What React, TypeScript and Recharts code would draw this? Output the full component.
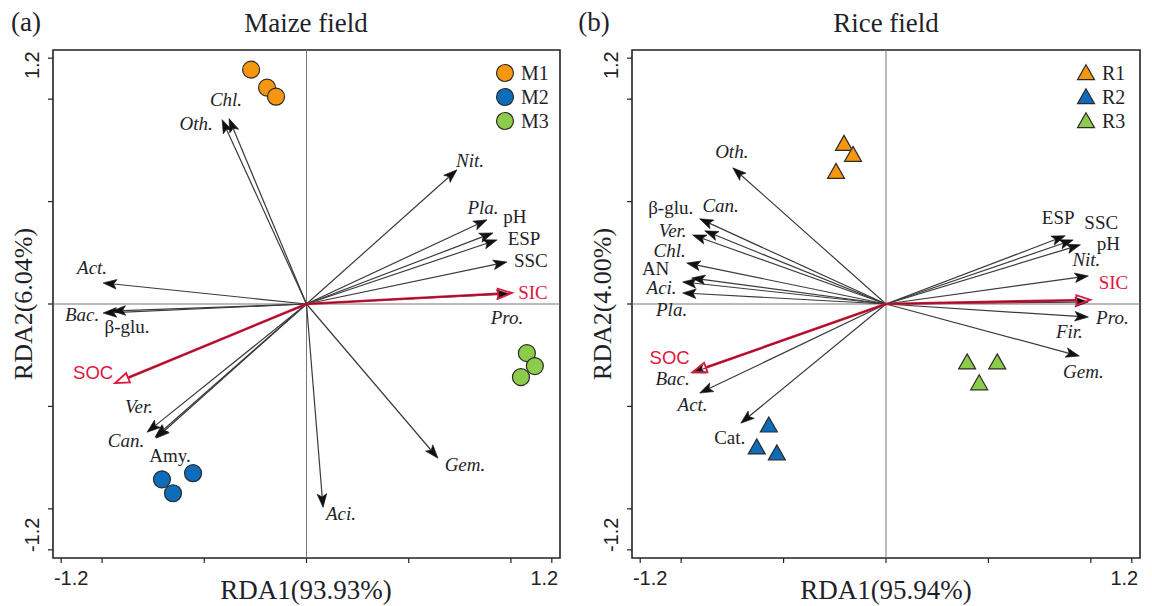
import React from 'react';
import { ScatterChart, Scatter, XAxis, YAxis, ReferenceLine, ReferenceArea, Legend } from 'recharts';

const SERIF = "'Liberation Serif', 'Times New Roman', Times, serif";
const SANS = "'Liberation Sans', Arial, Helvetica, sans-serif";

const AXIS_TICKS = [-1.2, -1, -0.5, 0, 0.5, 1, 1.2];
const AXIS_DOMAIN: [number, number] = [-1.24, 1.24];
const LABELLED_TICKS = [-1.2, 1.2];

// ---------- Maize field (a) ----------
const maizeM1 = [{ x: -0.271, y: 1.144 }, { x: -0.193, y: 1.056 }, { x: -0.149, y: 1.012 }];
const maizeM2 = [{ x: -0.707, y: -0.856 }, { x: -0.555, y: -0.826 }, { x: -0.653, y: -0.924 }];
const maizeM3 = [{ x: 1.078, y: -0.240 }, { x: 1.117, y: -0.303 }, { x: 1.049, y: -0.357 }];

const maizeSpecies = [
  { name: 'Chl.', x: -0.379, y: 0.905 },
  { name: 'Oth.', x: -0.413, y: 0.900 },
  { name: 'Act.', x: -0.995, y: 0.103 },
  { name: 'Bac.', x: -0.995, y: -0.044 },
  { name: 'β-glu.', x: -0.951, y: -0.034 },
  { name: 'Ver.', x: -0.741, y: -0.650 },
  { name: 'Can.', x: -0.780, y: -0.626 },
  { name: 'Amy.', x: -0.736, y: -0.655 },
  { name: 'Aci.', x: 0.081, y: -0.993 },
  { name: 'Gem.', x: 0.643, y: -0.753 },
  { name: 'Nit.', x: 0.736, y: 0.655 },
  { name: 'Pla.', x: 0.883, y: 0.411 },
  { name: 'pH', x: 0.912, y: 0.347 },
  { name: 'ESP', x: 0.932, y: 0.313 },
  { name: 'SSC', x: 0.980, y: 0.205 },
  { name: 'Pro.', x: 0.995, y: 0.049 },
];
const maizeEnv = [
  { name: 'SOC', x: -0.936, y: -0.386 },
  { name: 'SIC', x: 1.005, y: 0.054 },
];

// ---------- Rice field (b) ----------
const riceR1 = [{ x: -0.205, y: 0.778 }, { x: -0.161, y: 0.724 }, { x: -0.244, y: 0.641 }];
const riceR2 = [{ x: -0.572, y: -0.597 }, { x: -0.631, y: -0.704 }, { x: -0.533, y: -0.733 }];
const riceR3 = [{ x: 0.396, y: -0.289 }, { x: 0.543, y: -0.289 }, { x: 0.455, y: -0.391 }];

const riceSpecies = [
  { name: 'Oth.', x: -0.748, y: 0.665 },
  { name: 'Can.', x: -0.910, y: 0.416 },
  { name: 'β-glu.', x: -0.885, y: 0.357 },
  { name: 'Ver.', x: -0.944, y: 0.337 },
  { name: 'Chl.', x: -0.973, y: 0.200 },
  { name: 'AN', x: -0.949, y: 0.127 },
  { name: 'Aci.', x: -0.993, y: 0.108 },
  { name: 'Pla.', x: -0.993, y: 0.054 },
  { name: 'Bac.', x: -0.949, y: -0.337 },
  { name: 'Act.', x: -0.910, y: -0.435 },
  { name: 'Cat.', x: -0.709, y: -0.582 },
  { name: 'ESP', x: 0.875, y: 0.333 },
  { name: 'SSC', x: 0.914, y: 0.313 },
  { name: 'pH', x: 0.949, y: 0.289 },
  { name: 'Nit.', x: 0.988, y: 0.137 },
  { name: 'Fir.', x: 0.988, y: 0.010 },
  { name: 'Pro.', x: 0.988, y: -0.064 },
  { name: 'Gem.', x: 0.944, y: -0.254 },
];
const riceEnv = [
  { name: 'SOC', x: -0.944, y: -0.333 },
  { name: 'SIC', x: 0.998, y: 0.020 },
];

// ---------- label placement (pixel offsets from arrow tips) & styles ----------
const maizeLabelOffsets: Record<string, [number, number]> = {
  'Chl.': [-3, -19], 'Oth.': [-26, 4], 'Act.': [-11, -15], 'Bac.': [-21, 1], 'β-glu.': [15, 16],
  'Ver.': [-16, -31], 'Can.': [-21, 8], 'Amy.': [14, 17], 'Aci.': [18, 6], 'Gem.': [27, 6],
  'Nit.': [13, -9], 'Pla.': [-4, -12], 'pH': [22, -16], 'ESP': [27, -1], 'SSC': [24, -2],
  'Pro.': [-3, 24], 'SOC': [-22, -11], 'SIC': [21, 0],
};
const riceLabelOffsets: Record<string, [number, number]> = {
  'Oth.': [-1, -16], 'Can.': [21, -13], 'β-glu.': [-34, -23], 'Ver.': [-20, -4], 'Chl.': [-17, -13],
  'AN': [-36, -9], 'Aci.': [-21, 6], 'Pla.': [-11, 17], 'Bac.': [-19, 5], 'Act.': [-7, 11],
  'Cat.': [-11, 14], 'ESP': [-7, -18], 'SSC': [28, -17], 'pH': [28, -1], 'Nit.': [-2, -16],
  'Fir.': [-19, 30], 'Pro.': [24, 0], 'Gem.': [4, 15], 'SOC': [-23, -15], 'SIC': [23, -17],
};
const ITALIC_NAMES = ['Chl.', 'Oth.', 'Act.', 'Bac.', 'Ver.', 'Can.', 'Aci.', 'Gem.', 'Nit.', 'Pla.', 'Pro.', 'Fir.'];
const SANS_NAMES = ['SOC'];

const ORANGE = '#F7960F';
const BLUE = '#0E6DBA';
const GREEN = '#8DCB4A';
const RED = '#E0163D';
const INK = '#1f1f2a';

const maizeGroups = [
  { name: 'M1', color: ORANGE, data: maizeM1 },
  { name: 'M2', color: BLUE, data: maizeM2 },
  { name: 'M3', color: GREEN, data: maizeM3 },
];
const riceGroups = [
  { name: 'R1', color: ORANGE, data: riceR1 },
  { name: 'R2', color: BLUE, data: riceR2 },
  { name: 'R3', color: GREEN, data: riceR3 },
];

function triPoints(cx: number, cy: number) {
  const w = 8.5, h = 15;
  return `${cx},${cy - h * 0.62} ${cx + w},${cy + h * 0.38} ${cx - w},${cy + h * 0.38}`;
}

function makeArrowShape(name: string, offsets: Record<string, [number, number]>, red: boolean) {
  return (p: any) => {
    const { x1, y1, x2, y2 } = p;
    if (x1 == null || x2 == null) return <g />;
    const ang = Math.atan2(y2 - y1, x2 - x1);
    const c = Math.cos(ang), s = Math.sin(ang);
    const L = red ? 14 : 13.5, W = red ? 5 : 4.8;
    const bx = x2 - L * c, by = y2 - L * s;
    const nx = x2 - (L - 3) * c, ny = y2 - (L - 3) * s;
    const head = red
      ? `${x2},${y2} ${bx + W * s},${by - W * c} ${bx - W * s},${by + W * c}`
      : `${x2},${y2} ${bx + W * s},${by - W * c} ${nx},${ny} ${bx - W * s},${by + W * c}`;
    const [dx, dy] = offsets[name] || [0, 0];
    const italic = ITALIC_NAMES.includes(name);
    const sans = SANS_NAMES.includes(name);
    return (
      <g>
        {red ? (
          <>
            <line x1={x1} y1={y1} x2={bx} y2={by} stroke={RED} strokeWidth={2.6} />
            <line x1={x1} y1={y1} x2={bx} y2={by} stroke="#3a1a1a" strokeWidth={0.6} />
            <polygon points={head} fill="none" stroke={RED} strokeWidth={1.8} strokeLinejoin="miter" />
          </>
        ) : (
          <>
            <line x1={x1} y1={y1} x2={nx} y2={ny} stroke="#3b3b3b" strokeWidth={1.2} />
            <polygon points={head} fill="#111" stroke="#111" strokeWidth={0.6} />
          </>
        )}
        <text
          x={x2 + dx}
          y={y2 + dy}
          textAnchor="middle"
          dominantBaseline="central"
          fontFamily={sans ? SANS : SERIF}
          fontStyle={italic ? 'italic' : 'normal'}
          fontSize={sans ? 18.5 : 19}
          fill={red ? RED : INK}
        >
          {name}
        </text>
      </g>
    );
  };
}

const XTick = (p: any) => {
  const v = p.payload?.value;
  if (!LABELLED_TICKS.includes(v)) return <g />;
  const x = p.x + (v < 0 ? 10 : -7.5);
  return (
    <text x={x} y={585} textAnchor="middle" fontFamily={SANS} fontSize={20} fill="#222">
      {String(v)}
    </text>
  );
};

const makeYTick = (baselineX: number) => (p: any) => {
  const v = p.payload?.value;
  if (!LABELLED_TICKS.includes(v)) return <g />;
  const cy = p.y + (v > 0 ? 7 : -15);
  return (
    <text transform={`translate(${baselineX}, ${cy}) rotate(-90)`} textAnchor="middle" fontFamily={SANS} fontSize={20} fill="#222">
      {String(v)}
    </text>
  );
};

function LegendBox({ groups, kind }: { groups: typeof maizeGroups; kind: 'circle' | 'tri' }) {
  return (
    <svg width={72} height={78} style={{ display: 'block', overflow: 'visible' }}>
      {groups.map((g, i) => {
        const cy = 12 + i * 24;
        return (
          <g key={g.name}>
            {kind === 'circle' ? (
              <circle cx={11} cy={cy} r={8.5} fill={g.color} stroke="#2b2b2b" strokeWidth={1.2} />
            ) : (
              <polygon points={triPoints(11, cy + 1)} fill={g.color} stroke="#2b2b2b" strokeWidth={1.2} />
            )}
            <text x={27} y={cy + 7} fontFamily={SERIF} fontSize={20} fill={INK}>
              {g.name}
            </text>
          </g>
        );
      })}
    </svg>
  );
}

interface PanelProps {
  left: number;
  marginLeft: number;
  marginRight: number;
  species: { name: string; x: number; y: number }[];
  env: { name: string; x: number; y: number }[];
  offsets: Record<string, [number, number]>;
  groups: typeof maizeGroups;
  kind: 'circle' | 'tri';
  legendLeft: number;
}

function Panel(props: PanelProps) {
  const { left, marginLeft, marginRight, species, env, offsets, groups, kind, legendLeft } = props;
  const plotLeft = marginLeft + 53;
  return (
    <div style={{ position: 'absolute', left, top: 0 }}>
      <ScatterChart width={576} height={606} margin={{ top: 50, right: marginRight, bottom: 2, left: marginLeft }}>
        <XAxis
          type="number"
          dataKey="x"
          domain={AXIS_DOMAIN}
          ticks={AXIS_TICKS}
          interval={0}
          allowDataOverflow
          axisLine={false}
          tickLine={{ stroke: '#222', strokeWidth: 1.2 }}
          tickSize={5}
          height={46}
          tick={XTick}
        />
        <YAxis
          type="number"
          dataKey="y"
          domain={AXIS_DOMAIN}
          ticks={AXIS_TICKS}
          interval={0}
          allowDataOverflow
          axisLine={false}
          tickLine={{ stroke: '#222', strokeWidth: 1.2 }}
          tickSize={5}
          width={53}
          tick={makeYTick(plotLeft - 14)}
        />
        <ReferenceArea x1={AXIS_DOMAIN[0]} x2={AXIS_DOMAIN[1]} y1={AXIS_DOMAIN[0]} y2={AXIS_DOMAIN[1]} fill="none" fillOpacity={0} stroke="#222" strokeWidth={1.6} />
        <ReferenceLine x={0} stroke="#777" strokeWidth={1} />
        <ReferenceLine y={0} stroke="#777" strokeWidth={1} />
        {species.map((a) => (
          <ReferenceLine key={'sp-' + a.name} segment={[{ x: 0, y: 0 }, { x: a.x, y: a.y }]} shape={makeArrowShape(a.name, offsets, false)} />
        ))}
        {env.map((a) => (
          <ReferenceLine key={'env-' + a.name} segment={[{ x: 0, y: 0 }, { x: a.x, y: a.y }]} shape={makeArrowShape(a.name, offsets, true)} />
        ))}
        {groups.map((g) => (
          <Scatter
            key={g.name}
            name={g.name}
            data={g.data}
            fill={g.color}
            isAnimationActive={false}
            shape={(p: any) =>
              kind === 'circle' ? (
                <circle cx={p.cx} cy={p.cy} r={8.5} fill={g.color} stroke="#2b2b2b" strokeWidth={1.2} />
              ) : (
                <polygon points={triPoints(p.cx, p.cy)} fill={g.color} stroke="#2b2b2b" strokeWidth={1.2} />
              )
            }
          />
        ))}
        <Legend
          layout="vertical"
          align="center"
          verticalAlign="middle"
          wrapperStyle={{ left: legendLeft, top: 61, width: 72, height: 78 }}
          content={() => <LegendBox groups={groups} kind={kind} />}
        />
      </ScatterChart>
    </div>
  );
}

export default function App() {
  return (
    <div style={{ position: 'absolute', left: 0, top: 0, width: 1152, height: 606, background: '#fff', overflow: 'hidden' }}>
      <Panel
        left={0}
        marginLeft={0}
        marginRight={16}
        species={maizeSpecies}
        env={maizeEnv}
        offsets={maizeLabelOffsets}
        groups={maizeGroups}
        kind="circle"
        legendLeft={494}
      />
      <Panel
        left={576}
        marginLeft={3}
        marginRight={12}
        species={riceSpecies}
        env={riceEnv}
        offsets={riceLabelOffsets}
        groups={riceGroups}
        kind="tri"
        legendLeft={499}
      />
      <svg width={1152} height={606} style={{ position: 'absolute', left: 0, top: 0, pointerEvents: 'none' }}>
        <g fontFamily={SERIF} fill={INK}>
          <text x={26} y={31} textAnchor="middle" fontSize={27}>(a)</text>
          <text x={306} y={32} textAnchor="middle" fontSize={27}>Maize field</text>
          <text x={594} y={31} textAnchor="middle" fontSize={27}>(b)</text>
          <text x={886} y={32} textAnchor="middle" fontSize={27}>Rice field</text>
          <text x={306} y={599} textAnchor="middle" fontSize={27}>RDA1(93.93%)</text>
          <text x={886} y={599} textAnchor="middle" fontSize={27}>RDA1(95.94%)</text>
          <text transform="translate(32, 304) rotate(-90)" textAnchor="middle" fontSize={26}>RDA2(6.04%)</text>
          <text transform="translate(611, 304) rotate(-90)" textAnchor="middle" fontSize={26}>RDA2(4.00%)</text>
        </g>
      </svg>
    </div>
  );
}
